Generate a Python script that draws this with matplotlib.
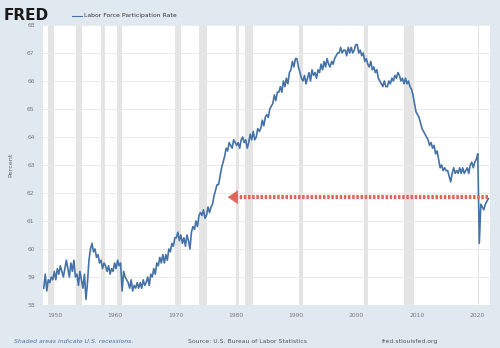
import numpy as np
import matplotlib
matplotlib.use('Agg')
import matplotlib.pyplot as plt

# Civilian labor force participation rate, quarterly readings
first_year = 1948
lfpr = [
    58.6, 59.1, 58.5, 58.9,  # 1948
    58.8, 59.0, 58.9, 59.2,
    58.9, 59.3, 59.1, 59.4,  # 1950
    59.2, 59.0, 59.3, 59.6,
    59.3, 59.0, 59.5, 59.2,
    59.6, 59.0, 59.1, 58.7,
    59.2, 58.9, 58.6, 59.1,
    58.2, 58.8, 59.6, 60.0,
    60.2, 59.9, 60.0, 59.7,
    59.8, 59.5, 59.6, 59.3,
    59.5, 59.4, 59.2, 59.4,
    59.1, 59.3, 59.2, 59.5,
    59.3, 59.6, 59.4, 59.5,  # 1960
    58.5, 59.2, 59.0, 58.9,
    58.8, 58.6, 58.9, 58.5,
    58.7, 58.6, 58.8, 58.6,
    58.8, 58.6, 58.9, 58.7,
    58.8, 59.0, 58.7, 59.1,
    59.0, 59.3, 59.1, 59.5,
    59.4, 59.7, 59.5, 59.8,
    59.5, 59.8, 59.6, 60.0,
    59.9, 60.2, 60.1, 60.4,
    60.4, 60.6, 60.3, 60.5,  # 1970
    60.2, 60.4, 60.1, 60.5,
    60.3, 60.0, 60.6, 60.8,
    60.7, 61.0, 60.8, 61.2,
    61.3, 61.2, 61.4, 61.1,
    61.2, 61.5, 61.3, 61.5,
    61.6, 61.9, 62.1, 62.3,
    62.3, 62.6, 62.9, 63.1,
    63.3, 63.6, 63.5, 63.8,
    63.7, 63.6, 63.9, 63.8,
    63.7, 63.8, 63.6, 63.9,  # 1980
    64.0, 63.8, 63.9, 63.6,
    63.8, 64.1, 63.9, 64.2,
    63.9, 64.0, 64.3, 64.2,
    64.3, 64.6, 64.4, 64.7,
    64.8, 64.7, 65.0, 65.1,
    65.2, 65.5, 65.3, 65.6,
    65.6, 65.8, 65.6, 66.0,
    65.8, 66.1, 65.9, 66.3,
    66.4, 66.7, 66.5, 66.8,
    66.8, 66.5, 66.3, 66.1,  # 1990
    66.0, 66.2, 65.9, 66.1,
    66.3, 66.0, 66.4, 66.2,
    66.3, 66.1, 66.4, 66.3,
    66.6, 66.4, 66.7, 66.5,
    66.8, 66.6, 66.5, 66.7,
    66.6, 66.8, 66.9, 67.0,
    67.0, 67.2, 67.0, 67.1,
    67.1, 66.9, 67.2, 67.0,
    67.2, 67.0, 67.1, 67.3,
    67.3, 67.0, 67.1, 66.9,  # 2000
    67.0, 66.7, 66.8, 66.6,
    66.5, 66.7, 66.4, 66.5,
    66.3, 66.4, 66.1, 66.0,
    65.9, 65.8, 66.0, 65.8,
    65.8, 66.0, 65.9, 66.1,
    66.0, 66.2, 66.1, 66.3,
    66.2, 66.0, 66.1, 65.9,
    66.1, 65.9, 66.0, 65.8,
    65.7, 65.5, 65.2, 64.9,
    64.8, 64.7, 64.5, 64.3,  # 2010
    64.2, 64.1, 64.0, 63.9,
    63.7, 63.8, 63.6, 63.7,
    63.4, 63.5, 63.2, 62.9,
    63.0, 62.8, 62.9, 62.8,
    62.8, 62.6, 62.4, 62.7,
    62.9, 62.7, 62.8, 62.7,
    62.9, 62.7, 62.9, 62.7,
    62.8, 62.9, 62.7, 63.0,
    63.1, 62.9, 63.1, 63.2,
    63.4, 60.2, 61.6, 61.5,  # 2020
    61.4, 61.6, 61.7, 61.8,
]
dates = first_year + np.arange(len(lfpr)) / 4.0 + 0.125

# NBER recessions (start, end) in decimal years
recessions = [(1948.9, 1949.8), (1953.5, 1954.4), (1957.6, 1958.3),
              (1960.3, 1961.1), (1969.9, 1970.9), (1973.9, 1975.2),
              (1980.0, 1980.5), (1981.5, 1982.9), (1990.5, 1991.2),
              (2001.2, 2001.9), (2007.9, 2009.5), (2020.1, 2020.3)]

arrow_from = 2021.9
arrow_to = 1978.2
arrow_level = 61.85

bg = '#e1e9f0'
red = '#e2655a'
fig = plt.figure(figsize=(5, 3.48), dpi=100, facecolor=bg)
ax = fig.add_axes([0.086, 0.1236, 0.894, 0.8046])
ax.set_facecolor('white')

for a, b in recessions:
    ax.axvspan(a, b, color='#e4e4e4', lw=0, zorder=0)

ax.plot(dates, lfpr, color='#4572a7', lw=1.2, zorder=3)

# red dotted arrow
ax.plot([arrow_from, arrow_to + 1.4], [arrow_level, arrow_level],
        color=red, lw=3, linestyle=(0, (0.6, 0.4)), zorder=4,
        dash_capstyle='butt')
ax.annotate('', xy=(arrow_to, arrow_level), xytext=(arrow_to + 1.8, arrow_level),
            arrowprops=dict(arrowstyle='-|>,head_length=0.65,head_width=0.45',
                            color=red, lw=0.5), zorder=5)

ax.set_xlim(1948.0, 2022.15)
ax.set_ylim(58, 68)
ax.set_yticks(range(58, 69))
ax.set_xticks(range(1950, 2021, 10))
ax.grid(axis='y', color='#e8e8e8', lw=0.6)
ax.set_axisbelow(True)
for s in ax.spines.values():
    s.set_visible(False)
ax.tick_params(length=0, labelsize=4.3, labelcolor='#777777', pad=6)
ax.set_ylabel('Percent', fontsize=4.6, color='#666666', labelpad=10)

# header
fig.text(0.008, 0.955, 'FRED', fontsize=11, fontweight='heavy', color='#1a1a1a',
         va='center', ha='left')
fig.add_artist(plt.Line2D([0.144, 0.164], [0.955, 0.955], color='#4572a7', lw=0.8))
fig.text(0.168, 0.955, 'Labor Force Participation Rate', fontsize=4.4,
         color='#333333', va='center', ha='left')

# footer
fig.text(0.028, 0.012, 'Shaded areas indicate U.S. recessions.', fontsize=4.4,
         style='italic', color='#4a6fa5', va='bottom')
fig.text(0.376, 0.012, 'Source: U.S. Bureau of Labor Statistics', fontsize=4.4,
         color='#555555', va='bottom')
fig.text(0.764, 0.012, 'fred.stlouisfed.org', fontsize=4.4,
         color='#555555', va='bottom')

fig.savefig('out.png', dpi=100, facecolor=bg)
